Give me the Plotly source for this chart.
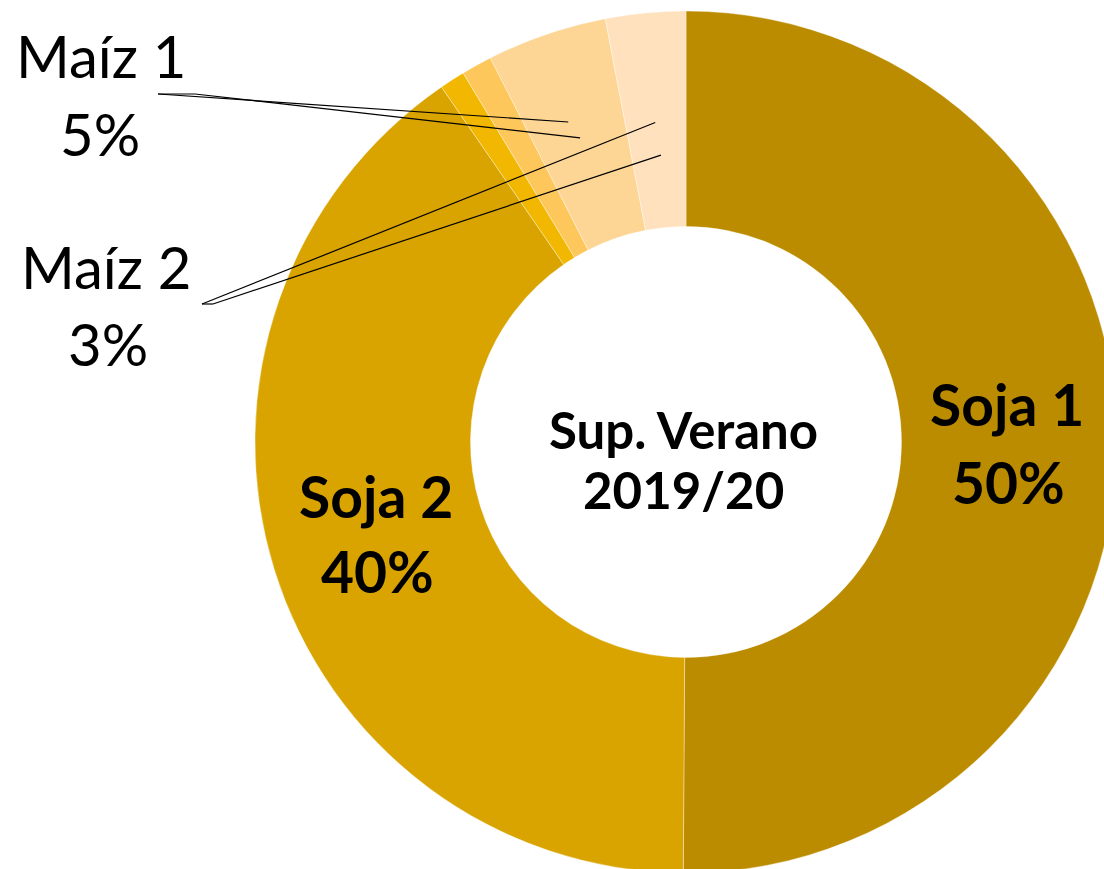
import math
import plotly.graph_objects as go

# ---- data ----
categories = ["Soja 1", "Soja 2", "Otros A", "Otros B", "Maíz 1", "Maíz 2"]
values = [50.1, 40.3, 0.95, 1.15, 4.5, 3.0]
pct_labels = ["50%", "40%", "", "", "5%", "3%"]
colors = ["#BC8C00", "#D9A400", "#F2B700", "#FDC75B", "#FDD595", "#FFE1BD"]
center_title = ["Sup. Verano", "2019/20"]

# ---- geometry (pixels) ----
W, H = 1120, 880
CX, CY, R = 686, 442, 431
FONT = "Lato"


def px(x):
    return x / W


def py(y):
    return 1 - y / H


fig = go.Figure(
    go.Pie(
        labels=categories,
        values=values,
        sort=False,
        direction="clockwise",
        rotation=0,
        hole=0.5,
        marker=dict(colors=colors, line=dict(color="rgba(255,255,255,0.45)", width=0.8)),
        textinfo="none",
        hoverinfo="label+percent",
        showlegend=False,
        domain=dict(x=[px(CX - R), px(CX + R)], y=[py(CY + R), py(CY - R)]),
    )
)

annotations = []


def add_text(txt, x, y, size, bold=False):
    annotations.append(
        dict(
            text=f"<b>{txt}</b>" if bold else txt,
            x=px(x), y=py(y), xref="paper", yref="paper",
            xanchor="center", yanchor="middle", showarrow=False,
            font=dict(family=FONT, size=size, color="#000000"),
        )
    )


# inside labels (bold)
add_text(categories[0], 1007, 404, 57, bold=True)
add_text(pct_labels[0], 1008, 482, 57, bold=True)
add_text(categories[1], 376, 496, 57, bold=True)
add_text(pct_labels[1], 377, 571, 57, bold=True)
# center title
add_text(center_title[0], 683, 429, 51, bold=True)
add_text(center_title[1], 683, 490, 51, bold=True)
# outside labels
add_text(categories[4], 101, 55, 58)
add_text(pct_labels[4], 100, 133, 58)
add_text(categories[5], 106, 266, 58)
add_text(pct_labels[5], 108, 344, 58)

# leader lines computed from the slice mid-angles (clockwise from 12 o'clock)
total = sum(values)
cum = 0
mids = []
for v in values:
    mids.append((cum + v / 2) / total * 360)
    cum += v


def polar(angle_deg, r):
    a = math.radians(angle_deg)
    return CX + r * math.sin(a), CY - r * math.cos(a)


shapes = []


def line(x0, y0, x1, y1):
    shapes.append(
        dict(type="line", xref="paper", yref="paper",
             x0=px(x0), y0=py(y0), x1=px(x1), y1=py(y1),
             line=dict(color="#000000", width=1.2))
    )


# Maíz 1 callout
m1 = mids[4]
e1 = polar(m1 - 1.3, 341)
e2 = polar(m1 - 0.3, 322)
line(158, 94, *e1)
line(195, 94, *e2)
line(158, 94, 195, 94)
# Maíz 2 callout
m2 = mids[5]
e3 = polar(m2 - 0.1, 321)
e4 = polar(m2 + 0.4, 288)
line(202, 304, *e3)
line(213, 304, *e4)
line(202, 304, 213, 304)

fig.update_layout(
    width=W, height=H,
    margin=dict(l=0, r=0, t=0, b=0),
    paper_bgcolor="#FFFFFF",
    plot_bgcolor="#FFFFFF",
    annotations=annotations,
    shapes=shapes,
)

fig.write_html(
    "out.html",
    config={"displayModeBar": False},
    post_script="document.body.style.margin='0';document.body.style.overflow='hidden';",
)
